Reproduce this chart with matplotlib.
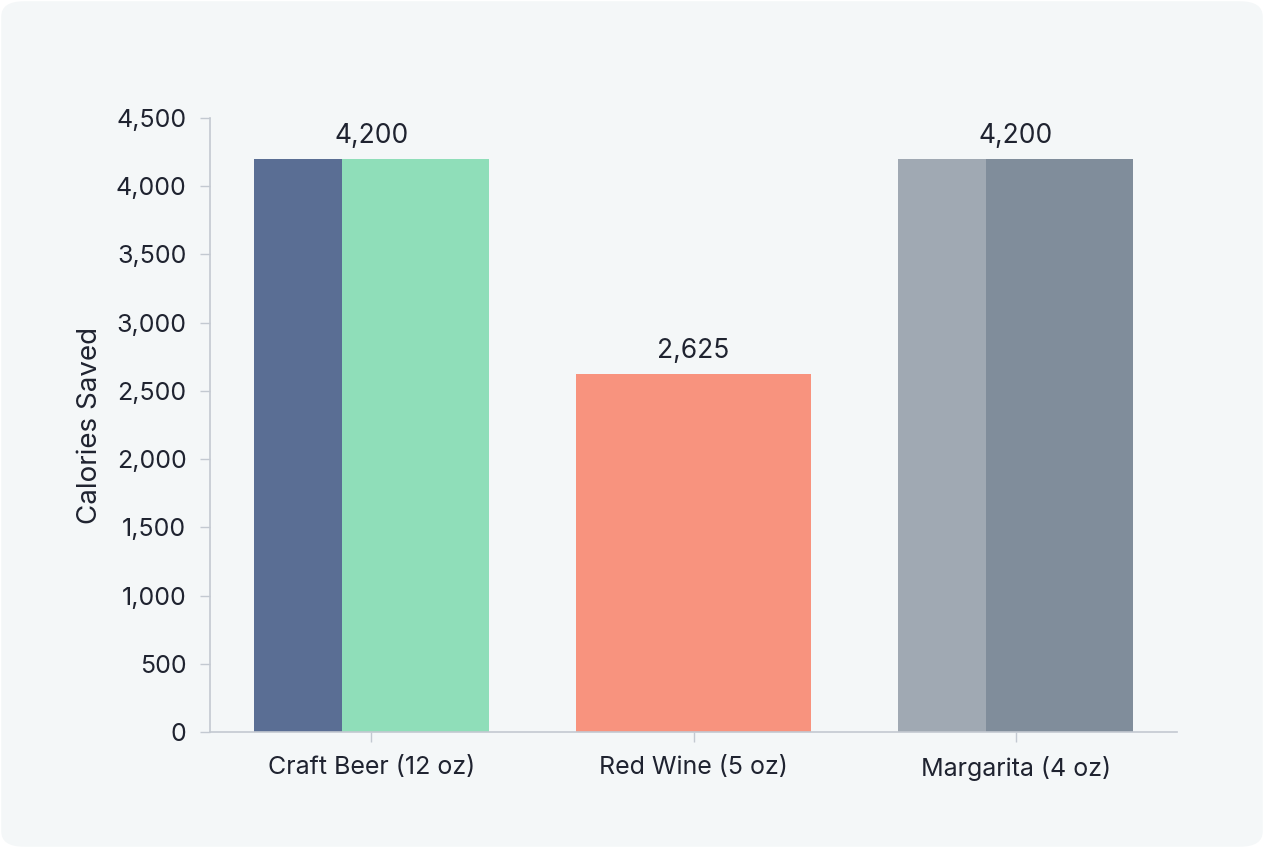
import matplotlib.pyplot as plt
from matplotlib.patches import FancyBboxPatch

drinks = ["Craft Beer (12 oz)", "Red Wine (5 oz)", "Margarita (4 oz)"]
calories_saved = [4200, 2625, 4200]

left_colors = ["#5a6e94", "#f8937e", "#a0a9b3"]
right_colors = ["#8fdeb9", "#f8937e", "#808d9b"]

plt.rcParams["font.family"] = ["Inter", "DejaVu Sans"]

fig = plt.figure(figsize=(12.64, 8.48), dpi=100)
fig.patch.set_facecolor("white")
card = FancyBboxPatch((0.001, 0.0015), 0.998, 0.997, boxstyle="round,pad=0,rounding_size=0.018",
                      transform=fig.transFigure, facecolor="#f4f7f8", edgecolor="none", zorder=-10)
fig.patches.append(card)

ax = fig.add_axes([210 / 1264, 1 - 732 / 848, (1177 - 210) / 1264, (732 - 118) / 848])
ax.set_facecolor("none")

width = 0.73
split = 0.375
x = list(range(len(drinks)))
left_x = [i - width / 2 for i in x]
ax.bar(left_x, calories_saved, width=width * split, align="edge", color=left_colors, zorder=2)
ax.bar([lx + width * split for lx in left_x], calories_saved, width=width * (1 - split),
       align="edge", color=right_colors, zorder=2)

for i, v in zip(x, calories_saved):
    ax.text(i, v + 75, f"{v:,}", ha="center", va="bottom", fontsize=19, color="#1f2330")

ax.set_xlim(-0.5, 2.5)
ax.set_ylim(0, 4500)
ax.set_yticks(range(0, 4501, 500))
ax.set_yticklabels([f"{t:,}" for t in range(0, 4501, 500)])
ax.set_xticks(x)
ax.set_xticklabels(drinks)

for s in ["top", "right"]:
    ax.spines[s].set_visible(False)
for s in ["left", "bottom"]:
    ax.spines[s].set_color("#c3c9d1")
    ax.spines[s].set_linewidth(1.2)

ax.tick_params(axis="y", length=7, width=1, color="#c3c9d1", pad=10, labelsize=18, labelcolor="#1f2330")
ax.tick_params(axis="x", length=7, width=1, color="#c3c9d1", pad=10, labelsize=18, labelcolor="#1f2330")
ax.set_ylabel("Calories Saved", fontsize=20, color="#1f2330", labelpad=9)

fig.savefig("out.png", dpi=100, facecolor=fig.get_facecolor())
